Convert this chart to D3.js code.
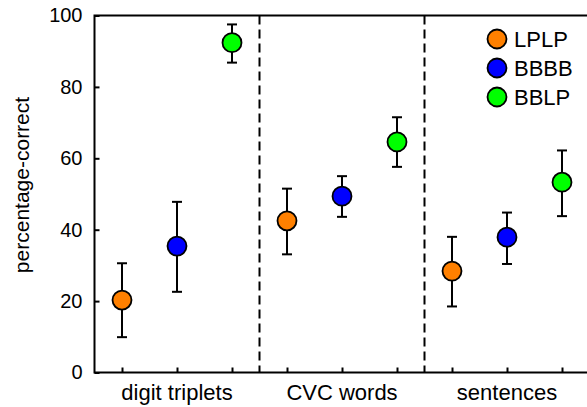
<!DOCTYPE html>
<html>
<head>
<meta charset="utf-8">
<script src="https://cdn.jsdelivr.net/npm/d3@7"></script>
<style>
  html, body { margin: 0; padding: 0; background: #fff; }
  svg { display: block; font-family: "Liberation Sans", Arial, sans-serif; }
</style>
</head>
<body>
<svg id="chart" width="587" height="407"></svg>
<script>
// Test types (groups along the x axis) and listening conditions
const groups = ["digit triplets", "CVC words", "sentences"];
const conditions = ["LPLP", "BBBB", "BBLP"];
const colors = ["#FF8000", "#0000FF", "#00FF00"];

// Mean percentage-correct per condition, one value per group
const meanLPLP = [20.3, 42.5, 28.4];
const meanBBBB = [35.4, 49.4, 37.9];
const meanBBLP = [92.4, 64.6, 53.3];

// Upper and lower ends of the error bars
const upperLPLP = [30.6, 51.5, 38.0];
const lowerLPLP = [9.9, 33.1, 18.5];
const upperBBBB = [47.8, 55.0, 44.8];
const lowerBBBB = [22.6, 43.6, 30.4];
const upperBBLP = [97.5, 71.5, 62.2];
const lowerBBLP = [86.8, 57.6, 43.8];

const yTicks = [0, 20, 40, 60, 80, 100];

const means = [meanLPLP, meanBBBB, meanBBLP];
const uppers = [upperLPLP, upperBBBB, upperBBLP];
const lowers = [lowerLPLP, lowerBBBB, lowerBBLP];

const points = [];
groups.forEach((g, gi) => {
  conditions.forEach((c, ci) => {
    points.push({
      slot: gi * conditions.length + ci,
      cond: ci,
      mean: means[ci][gi],
      hi: uppers[ci][gi],
      lo: lowers[ci][gi]
    });
  });
});

const svg = d3.select("#chart");
const plotL = 94.5, plotR = 589.5, plotT = 15.5, plotB = 372.5;
const nSlots = groups.length * conditions.length;

const x = d3.scaleLinear().domain([-0.5, nSlots - 0.5]).range([plotL, plotR]);
const y = d3.scaleLinear().domain([0, 100]).range([plotB, plotT]);

// frame: left, bottom and top lines
svg.append("path")
  .attr("d", `M${plotR},${plotT}H${plotL}V${plotB}H${plotR}`)
  .attr("fill", "none").attr("stroke", "#000").attr("stroke-width", 2);

// y axis (ticks pointing inward)
const yAxis = svg.append("g").attr("transform", `translate(${plotL},0)`)
  .call(d3.axisRight(y).tickValues(yTicks).tickSize(5).tickFormat(d3.format("d")));
yAxis.select(".domain").remove();
yAxis.selectAll(".tick line").attr("stroke-width", 2);
yAxis.selectAll(".tick text")
  .attr("x", -12).attr("text-anchor", "end")
  .attr("font-size", 20).attr("fill", "#000")
  .attr("font-family", "Liberation Sans, Arial, sans-serif");

// x ticks at each condition slot (pointing inward)
const slots = d3.range(nSlots);
const xAxis = svg.append("g").attr("transform", `translate(0,${plotB})`)
  .call(d3.axisTop(x).tickValues(slots).tickSize(5).tickFormat(""));
xAxis.select(".domain").remove();
xAxis.selectAll(".tick line").attr("stroke-width", 2);

// group labels
svg.selectAll("text.group")
  .data(groups)
  .join("text")
  .attr("class", "group")
  .attr("x", (d, i) => x(i * conditions.length + 1))
  .attr("y", plotB + 27)
  .attr("text-anchor", "middle")
  .attr("font-size", 22)
  .text(d => d);

// dashed separators between groups
svg.selectAll("line.sep")
  .data(d3.range(1, groups.length))
  .join("line")
  .attr("class", "sep")
  .attr("x1", d => x(d * conditions.length - 0.5))
  .attr("x2", d => x(d * conditions.length - 0.5))
  .attr("y1", plotT).attr("y2", plotB)
  .attr("stroke", "#000").attr("stroke-width", 2)
  .attr("stroke-dasharray", "9,5");

// y axis title
svg.append("text")
  .attr("transform", `translate(29,185) rotate(-90)`)
  .attr("text-anchor", "middle")
  .attr("font-size", 21)
  .text("percentage-correct");

// error bars
const eb = svg.append("g").attr("stroke", "#000").attr("stroke-width", 2);
eb.selectAll("line.v").data(points).join("line").attr("class", "v")
  .attr("x1", d => x(d.slot)).attr("x2", d => x(d.slot))
  .attr("y1", d => y(d.hi)).attr("y2", d => y(d.lo));
eb.selectAll("line.hi").data(points).join("line").attr("class", "hi")
  .attr("x1", d => x(d.slot) - 5).attr("x2", d => x(d.slot) + 5)
  .attr("y1", d => y(d.hi)).attr("y2", d => y(d.hi));
eb.selectAll("line.lo").data(points).join("line").attr("class", "lo")
  .attr("x1", d => x(d.slot) - 5).attr("x2", d => x(d.slot) + 5)
  .attr("y1", d => y(d.lo)).attr("y2", d => y(d.lo));

// markers
svg.selectAll("circle.pt").data(points).join("circle").attr("class", "pt")
  .attr("cx", d => x(d.slot)).attr("cy", d => y(d.mean))
  .attr("r", 9.5)
  .attr("fill", d => colors[d.cond])
  .attr("stroke", "#000").attr("stroke-width", 1.8);

// legend
const lg = svg.append("g").attr("transform", "translate(497,39)");
const items = lg.selectAll("g").data(conditions).join("g")
  .attr("transform", (d, i) => `translate(0,${i * 29})`);
items.append("circle").attr("r", 9.5)
  .attr("fill", (d, i) => colors[i]).attr("stroke", "#000").attr("stroke-width", 1.8);
items.append("text").attr("x", 17).attr("y", 8)
  .attr("font-size", 22).text(d => d);
</script>
</body>
</html>
